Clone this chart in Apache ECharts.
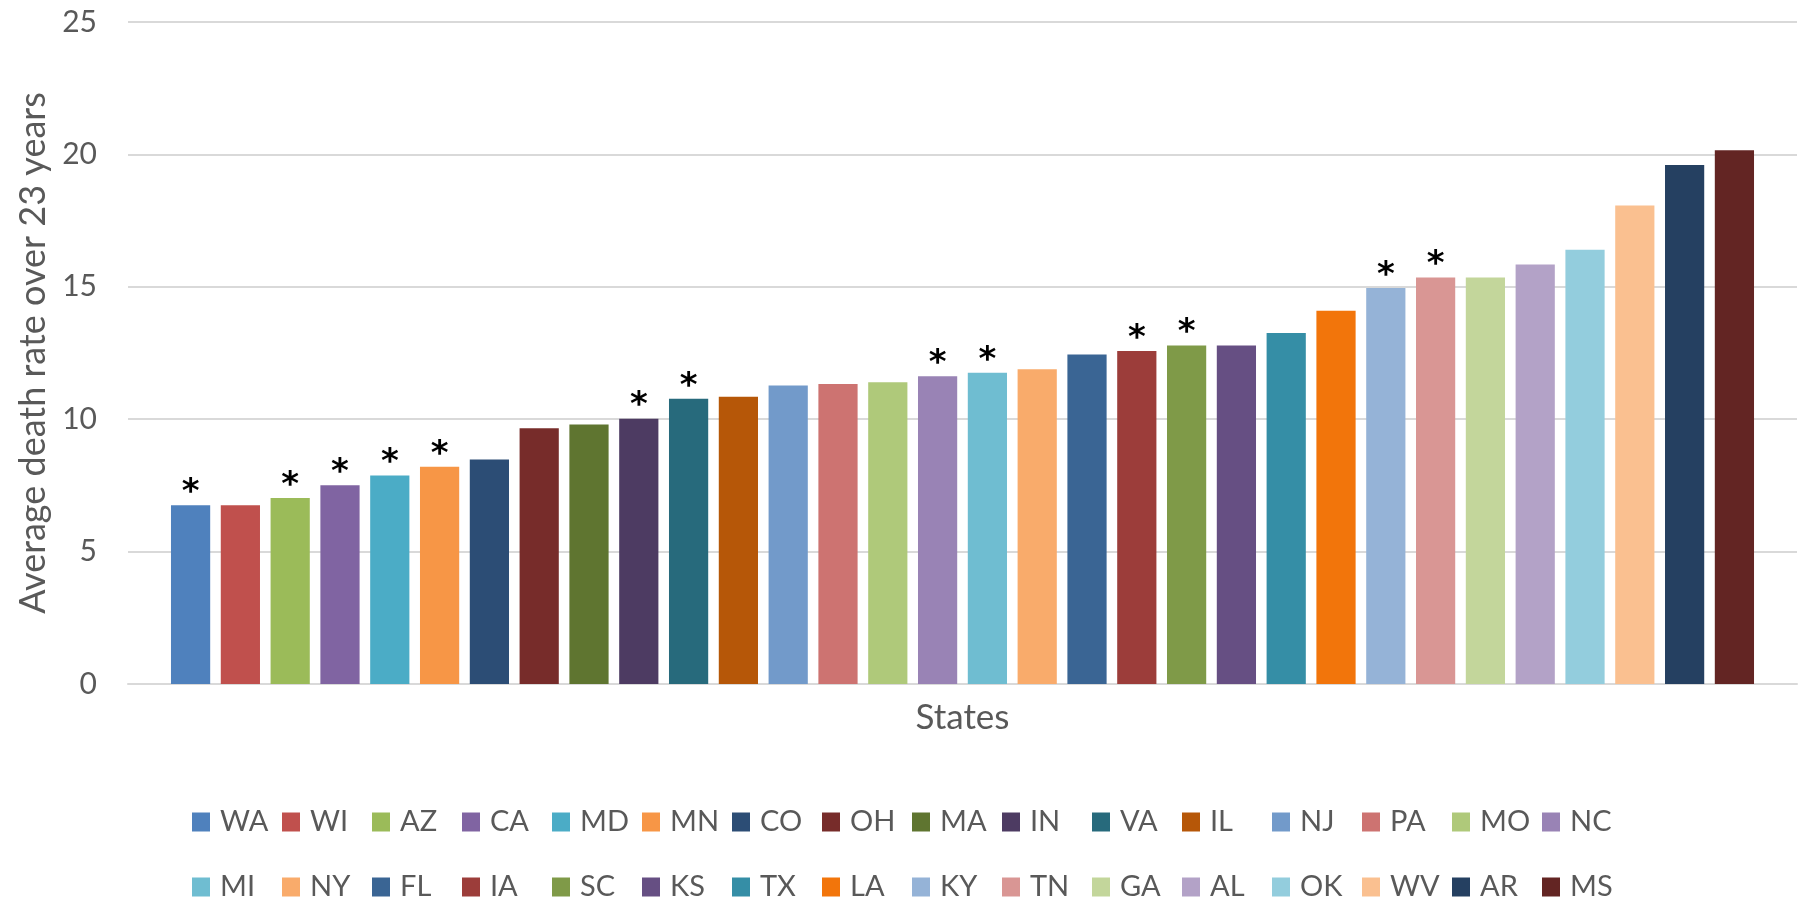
<!DOCTYPE html>
<html>
<head>
<meta charset="utf-8">
<script src="https://cdn.jsdelivr.net/npm/echarts@6/dist/echarts.min.js"></script>
<style>
html,body{margin:0;padding:0;background:#fff;}
#chart{width:1804px;height:899px;}
</style>
</head>
<body>
<div id="chart"></div>
<script>
// ---- data ----
const categories = ['States'];
const states = ['WA','WI','AZ','CA','MD','MN','CO','OH','MA','IN','VA','IL','NJ','PA','MO','NC',
                'MI','NY','FL','IA','SC','KS','TX','LA','KY','TN','GA','AL','OK','WV','AR','MS'];
const values = [6.75,6.75,7.02,7.51,7.87,8.20,8.48,9.66,9.80,10.02,10.77,10.85,11.27,11.33,11.40,11.62,
                11.75,11.89,12.44,12.58,12.78,12.78,13.26,14.10,14.95,15.35,15.35,15.84,16.40,18.07,19.60,20.16];
const starred = ['WA','AZ','CA','MD','MN','IN','VA','NC','MI','IA','SC','KY','TN'];
const yTicks = [0,5,10,15,20,25];
const yTitle = 'Average death rate over 23 years';

// ---- styles ----
const palette = ['#4F81BD','#C0504D','#9BBB59','#8064A2','#4BACC6','#F79646','#2C4D75','#772C2A',
                 '#5F7530','#4D3B62','#276A7C','#B65708','#729ACA','#CD7371','#AFC97A','#9983B5',
                 '#6FBDD1','#F9AB6B','#3A6594','#9C3D3A','#7F9A48','#664F83','#358EA6','#F2750B',
                 '#95B3D7','#D99694','#C3D69B','#B3A2C7','#93CDDD','#FAC090','#254061','#632523'];
const FONT = 'Lato';
const TXT = '#595959';

const series = states.map((s, i) => ({
  name: s,
  type: 'bar',
  data: [values[i]],
  itemStyle: { color: palette[i] },
  barGap: '27%',
  barCategoryGap: '5.15%',
  label: {
    show: starred.includes(s),
    position: 'top',
    distance: -5,
    formatter: '*',
    color: '#000',
    fontFamily: 'DejaVu Sans',
    fontWeight: 'bold',
    fontSize: 34,
    lineHeight: 34
  }
}));

const legendText = {
  fontFamily: FONT, fontSize: 29, color: TXT,
  width: 62, lineHeight: 30, padding: [0,0,0,5], overflow: 'none'
};

const chart = echarts.init(document.getElementById('chart'));
chart.setOption({
  animation: false,
  backgroundColor: '#fff',
  grid: { left: 128, right: 7, top: 22, bottom: 215, containLabel: false },
  xAxis: {
    type: 'category',
    data: categories,
    axisLine: { show: true, lineStyle: { color: '#D9D9D9', width: 2 } },
    axisTick: { show: false },
    axisLabel: { fontFamily: FONT, fontSize: 35, color: TXT, margin: 16 }
  },
  yAxis: {
    type: 'value',
    min: yTicks[0], max: yTicks[yTicks.length-1], interval: 5,
    name: yTitle,
    nameLocation: 'middle',
    nameGap: 77,
    nameTextStyle: { fontFamily: FONT, fontSize: 36, color: TXT },
    axisLine: { show: false },
    axisTick: { show: false },
    splitLine: { lineStyle: { color: '#D9D9D9', width: 2 } },
    axisLabel: { fontFamily: FONT, fontSize: 30, color: TXT, margin: 31 }
  },
  legend: [
    { data: states.slice(0,16), left: 187, top: 802, orient: 'horizontal',
      icon: 'rect', itemWidth: 18, itemHeight: 19, itemGap: 0, textStyle: legendText, selectedMode: false },
    { data: states.slice(16), left: 187, top: 867, orient: 'horizontal',
      icon: 'rect', itemWidth: 18, itemHeight: 19, itemGap: 0, textStyle: legendText, selectedMode: false }
  ],
  series: series
});
</script>
</body>
</html>
